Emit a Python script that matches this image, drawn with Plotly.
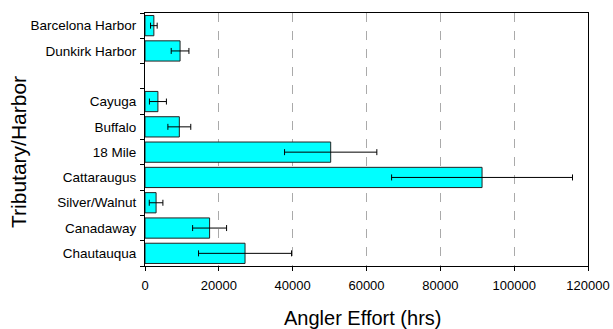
import plotly.graph_objects as go

categories = ["Chautauqua", "Canadaway", "Silver/Walnut", "Cattaraugus", "18 Mile",
              "Buffalo", "Cayuga", " ", "Dunkirk Harbor", "Barcelona Harbor"]
effort = [27100, 17500, 3000, 91300, 50300, 9300, 3500, None, 9500, 2400]
err = [12600, 4600, 1850, 24500, 12500, 3100, 2300, None, 2400, 900]
x_ticks = [0, 20000, 40000, 60000, 80000, 100000, 120000]

fig = go.Figure()
fig.add_trace(go.Bar(
    y=categories, x=effort, orientation="h", width=0.8,
    marker=dict(color="#00FFFF", line=dict(color="#222222", width=1)),
    error_x=dict(type="data", array=err, visible=True, color="black",
                 thickness=1, width=3),
))

font = "Arial"
fig.update_layout(
    width=613, height=329,
    margin=dict(l=145, r=25, t=13, b=63, autoexpand=False),
    paper_bgcolor="white", plot_bgcolor="white",
    showlegend=False,
    font=dict(family=font, size=13, color="black"),
)
fig.update_xaxes(
    range=[0, 120000], tickvals=x_ticks, ticktext=[str(v) for v in x_ticks],
    showgrid=True, gridcolor="#aaaaaa", griddash="dash", gridwidth=1,
    showline=True, linecolor="black", linewidth=1, mirror=True,
    ticks="outside", ticklen=4, tickcolor="black", automargin=False,
    zeroline=False, tickfont=dict(size=13), ticklabelstandoff=3,
)
fig.update_yaxes(
    type="category", categoryorder="array", categoryarray=categories,
    showgrid=False, automargin=False,
    showline=True, linecolor="black", linewidth=1, mirror=True,
    ticks="outside", ticklen=4, tickcolor="black", tickson="boundaries",
    tickfont=dict(size=13.5), ticklabelstandoff=5,
)
fig.add_annotation(text="Angler Effort (hrs)", xref="paper", yref="paper",
                   x=0.49, y=-0.205, xanchor="center", yanchor="middle",
                   showarrow=False, font=dict(size=20, family=font))
fig.add_annotation(text="Tributary/Harbor", xref="paper", yref="paper",
                   x=-0.287, y=0.45, xanchor="center", yanchor="middle",
                   textangle=-90, showarrow=False, font=dict(size=21, family=font))
fig.write_html("out.html")
